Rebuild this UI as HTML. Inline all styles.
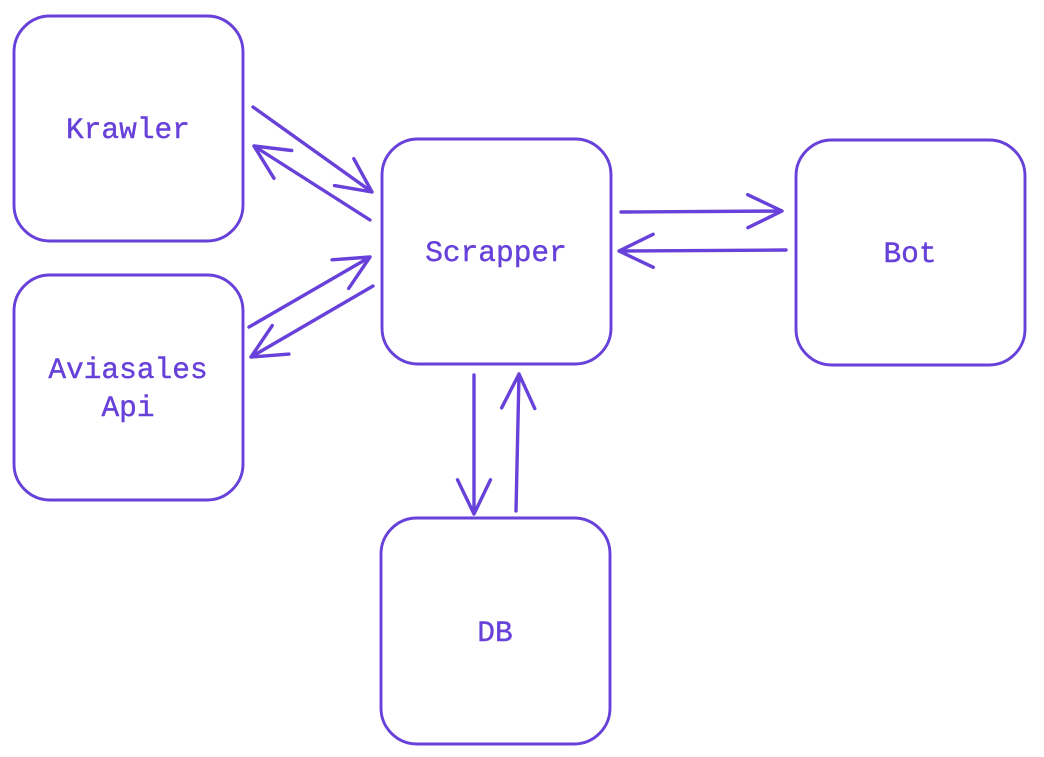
<!DOCTYPE html>
<html><head><meta charset="utf-8"><style>
html,body{margin:0;padding:0;background:#fff;width:1044px;height:757px;overflow:hidden}
svg{display:block}
text{font-family:"Liberation Mono",monospace;font-size:29.5px;fill:#6741d9;stroke:#6741d9;stroke-width:0.4}
</style></head><body>
<svg id="s" width="1044" height="757" viewBox="0 0 1044 757">
<g fill="none" stroke="#6741d9" stroke-width="2.9" stroke-linecap="round">
<rect x="14" y="16" width="229" height="225" rx="36"/>
<rect x="14" y="275" width="229" height="225" rx="36"/>
<rect x="382" y="139" width="229" height="225" rx="36"/>
<rect x="796" y="140" width="229" height="225" rx="36"/>
<rect x="381" y="518" width="229" height="226" rx="36"/>
</g>
<g id="ar" fill="none" stroke="#6741d9" stroke-width="3.4" stroke-linecap="round"></g>
<text x="128" y="138" text-anchor="middle">Krawler</text>
<text x="128" y="378" text-anchor="middle">Aviasales</text>
<text x="128" y="416" text-anchor="middle">Api</text>
<text x="496" y="261" text-anchor="middle">Scrapper</text>
<text x="910" y="262" text-anchor="middle">Bot</text>
<text x="495" y="641" text-anchor="middle">DB</text>
</svg>
<script>
var A=[[253,107,372,192],[370,220,254,146],[249,327,370,257],[373,286,251,357],[621,212,782,211],[786,250,619,251],[474,375,474,514],[516,511,519,374]];
var g=document.getElementById('ar'),d='';
A.forEach(function(a){var x1=a[0],y1=a[1],x2=a[2],y2=a[3];
var ang=Math.atan2(y2-y1,x2-x1),L=38,t=0.45;
d+='M'+x1+' '+y1+'L'+x2+' '+y2;
[t,-t].forEach(function(s){var b=ang+Math.PI+s;d+='M'+x2+' '+y2+'L'+(x2+L*Math.cos(b)).toFixed(1)+' '+(y2+L*Math.sin(b)).toFixed(1);});
});
var p=document.createElementNS('http://www.w3.org/2000/svg','path');p.setAttribute('d',d);g.appendChild(p);
</script>
</body></html>
